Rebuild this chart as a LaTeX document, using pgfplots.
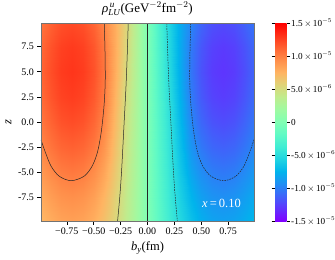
\documentclass[border=0pt]{standalone}
\usepackage{fontspec}
\setmainfont{Liberation Serif}
\usepackage{amsmath}
\usepackage{pgfplots}
\pgfplotsset{compat=1.18}
\usepackage{pgfplotstable}

% values in units of 1e-6 GeV^-2 fm^-2
\pgfplotstableread[row sep=\\]{
b z v\\
-0.99 -9.85 7.290\\-0.9 -9.85 7.885\\-0.8 -9.85 8.336\\-0.7 -9.85 8.500\\-0.6 -9.85 8.319\\-0.5 -9.85 7.756\\-0.4 -9.85 6.802\\-0.3 -9.85 5.405\\-0.2 -9.85 3.740\\-0.1 -9.85 1.928\\0 -9.85 0\\0.1 -9.85 -1.928\\0.2 -9.85 -3.740\\0.3 -9.85 -5.405\\0.4 -9.85 -6.802\\0.5 -9.85 -7.756\\0.6 -9.85 -8.319\\0.7 -9.85 -8.500\\0.8 -9.85 -8.336\\0.9 -9.85 -7.885\\0.99 -9.85 -7.290\\
-0.99 -7.5 7.977\\-0.9 -7.5 8.627\\-0.8 -7.5 9.121\\-0.7 -7.5 9.300\\-0.6 -7.5 9.102\\-0.5 -7.5 8.486\\-0.4 -7.5 7.442\\-0.3 -7.5 5.833\\-0.2 -7.5 3.980\\-0.1 -7.5 2.051\\0 -7.5 0\\0.1 -7.5 -2.051\\0.2 -7.5 -3.980\\0.3 -7.5 -5.833\\0.4 -7.5 -7.442\\0.5 -7.5 -8.486\\0.6 -7.5 -9.102\\0.7 -7.5 -9.300\\0.8 -7.5 -9.121\\0.9 -7.5 -8.627\\0.99 -7.5 -7.977\\
-0.99 -5 8.834\\-0.9 -5 9.554\\-0.8 -5 10.101\\-0.7 -5 10.300\\-0.6 -5 10.081\\-0.5 -5 9.399\\-0.4 -5 8.242\\-0.3 -5 6.334\\-0.2 -5 4.230\\-0.1 -5 2.180\\0 -5 0\\0.1 -5 -2.180\\0.2 -5 -4.230\\0.3 -5 -6.334\\0.4 -5 -8.242\\0.5 -5 -9.399\\0.6 -5 -10.081\\0.7 -5 -10.300\\0.8 -5 -10.101\\0.9 -5 -9.554\\0.99 -5 -8.834\\
-0.99 -2.5 9.692\\-0.9 -2.5 10.482\\-0.8 -2.5 11.082\\-0.7 -2.5 11.300\\-0.6 -2.5 11.059\\-0.5 -2.5 10.311\\-0.4 -2.5 9.042\\-0.3 -2.5 6.807\\-0.2 -2.5 4.440\\-0.1 -2.5 2.289\\0 -2.5 0\\0.1 -2.5 -2.289\\0.2 -2.5 -4.440\\0.3 -2.5 -6.807\\0.4 -2.5 -9.042\\0.5 -2.5 -10.311\\0.6 -2.5 -11.059\\0.7 -2.5 -11.300\\0.8 -2.5 -11.082\\0.9 -2.5 -10.482\\0.99 -2.5 -9.692\\
-0.99 0 10.378\\-0.9 0 11.224\\-0.8 0 11.866\\-0.7 0 12.100\\-0.6 0 11.842\\-0.5 0 11.041\\-0.4 0 9.682\\-0.3 0 7.207\\-0.2 0 4.640\\-0.1 0 2.392\\0 0 0\\0.1 0 -2.392\\0.2 0 -4.640\\0.3 0 -7.207\\0.4 0 -9.682\\0.5 0 -11.041\\0.6 0 -11.842\\0.7 0 -12.100\\0.8 0 -11.866\\0.9 0 -11.224\\0.99 0 -10.378\\
-0.99 2.5 10.893\\-0.9 2.5 11.781\\-0.8 2.5 12.455\\-0.7 2.5 12.700\\-0.6 2.5 12.429\\-0.5 2.5 11.589\\-0.4 2.5 10.163\\-0.3 2.5 7.572\\-0.2 2.5 4.880\\-0.1 2.5 2.516\\0 2.5 0\\0.1 2.5 -2.516\\0.2 2.5 -4.880\\0.3 2.5 -7.572\\0.4 2.5 -10.163\\0.5 2.5 -11.589\\0.6 2.5 -12.429\\0.7 2.5 -12.700\\0.8 2.5 -12.455\\0.9 2.5 -11.781\\0.99 2.5 -10.893\\
-0.99 5 11.150\\-0.9 5 12.059\\-0.8 5 12.749\\-0.7 5 13.000\\-0.6 5 12.723\\-0.5 5 11.863\\-0.4 5 10.403\\-0.3 5 7.873\\-0.2 5 5.170\\-0.1 5 2.663\\0 5 0\\0.1 5 -2.663\\0.2 5 -5.170\\0.3 5 -7.873\\0.4 5 -10.403\\0.5 5 -11.863\\0.6 5 -12.723\\0.7 5 -13.000\\0.8 5 -12.749\\0.9 5 -12.059\\0.99 5 -11.150\\
-0.99 7.5 10.979\\-0.9 7.5 11.873\\-0.8 7.5 12.553\\-0.7 7.5 12.800\\-0.6 7.5 12.527\\-0.5 7.5 11.680\\-0.4 7.5 10.243\\-0.3 7.5 7.937\\-0.2 7.5 5.350\\-0.1 7.5 2.757\\0 7.5 0\\0.1 7.5 -2.757\\0.2 7.5 -5.350\\0.3 7.5 -7.937\\0.4 7.5 -10.243\\0.5 7.5 -11.680\\0.6 7.5 -12.527\\0.7 7.5 -12.800\\0.8 7.5 -12.553\\0.9 7.5 -11.873\\0.99 7.5 -10.979\\
-0.99 9.85 10.464\\-0.9 9.85 11.317\\-0.8 9.85 11.965\\-0.7 9.85 12.200\\-0.6 9.85 11.940\\-0.5 9.85 11.133\\-0.4 9.85 9.762\\-0.3 9.85 7.864\\-0.2 9.85 5.517\\-0.1 9.85 2.844\\0 9.85 0\\0.1 9.85 -2.844\\0.2 9.85 -5.517\\0.3 9.85 -7.864\\0.4 9.85 -9.762\\0.5 9.85 -11.133\\0.6 9.85 -11.940\\0.7 9.85 -12.200\\0.8 9.85 -11.965\\0.9 9.85 -11.317\\0.99 9.85 -10.464\\
}\rhodata

\pgfplotsset{colormap={mplrainbow}{
rgb255=(128,0,255) rgb255=(96,50,254) rgb255=(64,98,250) rgb255=(32,142,244)
rgb255=(0,180,236) rgb255=(32,212,225) rgb255=(64,236,212) rgb255=(96,250,197)
rgb255=(128,255,180) rgb255=(159,250,162) rgb255=(191,236,142) rgb255=(223,212,120)
rgb255=(255,180,98) rgb255=(255,142,74) rgb255=(255,98,50) rgb255=(255,50,25)
rgb255=(255,0,0)}}

\begin{document}
\begin{tikzpicture}
\begin{axis}[
  width=213pt, height=198pt, scale only axis,
  xmin=-0.99, xmax=0.99, ymin=-9.85, ymax=9.85,
  axis on top,
  colormap name=mplrainbow,
  point meta min=-15, point meta max=15,
  xtick={-0.75,-0.5,-0.25,0,0.25,0.5,0.75},
  xticklabels={−0.75,−0.50,−0.25,0.00,0.25,0.50,0.75},
  ytick={-7.5,-5,-2.5,0,2.5,5,7.5},
  yticklabels={-7.5,-5.0,-2.5,0.0,2.5,5.0,7.5},
  tick align=outside, tick pos=left,
  major tick length=3.5pt,
  tick style={black, line width=0.6pt},
  axis line style={black!55, line width=0.8pt},
  ticklabel style={font=\fontsize{10}{12}\selectfont},
  xlabel={$\textit{b}_{\textit{y}}$(fm)},
  ylabel={\textit{z}},
  label style={font=\fontsize{12.5}{14}\selectfont},
  title={$\textit{ρ}^{\,\textit{u}}_{\textit{LU}}$(GeV$^{-2}$fm$^{-2}$)},
  title style={font=\fontsize{13}{15}\selectfont, at={(0.5,1)}, anchor=base, yshift=5pt},
  colorbar,
  colorbar style={
    width=11.3pt,
    at={(parent axis.north east)}, anchor=north west, xshift=12.7pt,
    ytick={-15,-10,-5,0,5,10,15},
    yticklabels={-1.5\,$\times$\,10$^{-5}$,-1.0\,$\times$\,10$^{-5}$,-5.0\,$\times$\,10$^{-6}$,0,5.0\,$\times$\,10$^{-6}$,1.0\,$\times$\,10$^{-5}$,1.5\,$\times$\,10$^{-5}$},
    yticklabel style={font=\fontsize{9.2}{11}\selectfont, inner sep=1pt},
    major tick length=3.5pt, tick align=outside,
    tick style={black, line width=0.6pt},
    axis line style={draw=none},
  },
]
\addplot[surf, shader=interp, mesh/cols=21, point meta=explicit] table[x=b, y=z, meta=v] {\rhodata};
% contour lines
\addplot[black!85, line width=0.5pt] coordinates {(0,-9.85) (0,9.85)};
\addplot[black!85, line width=0.5pt, smooth] coordinates {(-0.179,9.85) (-0.188,6.8) (-0.200,3.5) (-0.216,0.2) (-0.240,-4.7) (-0.258,-7.5) (-0.278,-9.85)};
\addplot[black!85, line width=0.5pt, dash pattern=on 1.6pt off 1pt, smooth] coordinates {(0.179,9.85) (0.188,6.8) (0.200,3.5) (0.216,0.2) (0.240,-4.7) (0.258,-7.5) (0.278,-9.85)};
\addplot[black!85, line width=0.5pt, smooth] coordinates {(-0.99,-1.77) (-0.95,-3.0) (-0.896,-4.4) (-0.82,-5.4) (-0.71,-5.84) (-0.59,-5.4) (-0.515,-4.4) (-0.465,-3.0) (-0.43,-1.0) (-0.405,1.5) (-0.393,4) (-0.395,7) (-0.402,9.85)};
\addplot[black!85, line width=0.5pt, dash pattern=on 1.6pt off 1pt, smooth] coordinates {(0.99,-1.77) (0.95,-3.0) (0.896,-4.4) (0.82,-5.4) (0.71,-5.84) (0.59,-5.4) (0.515,-4.4) (0.465,-3.0) (0.43,-1.0) (0.405,1.5) (0.393,4) (0.395,7) (0.402,9.85)};
\node[anchor=east, text=white, font=\fontsize{12.5}{14}\selectfont] at (axis cs:0.9,-8.1) {\textit{x}\,=\,0.10};
\coordinate (sw) at (rel axis cs:0,0);
\coordinate (ne) at (rel axis cs:1,1);
\end{axis}
\pgfresetboundingbox
\path ([shift={(-41pt,-38pt)}]sw) rectangle ([shift={(81pt,23pt)}]ne);
\end{tikzpicture}
\end{document}
